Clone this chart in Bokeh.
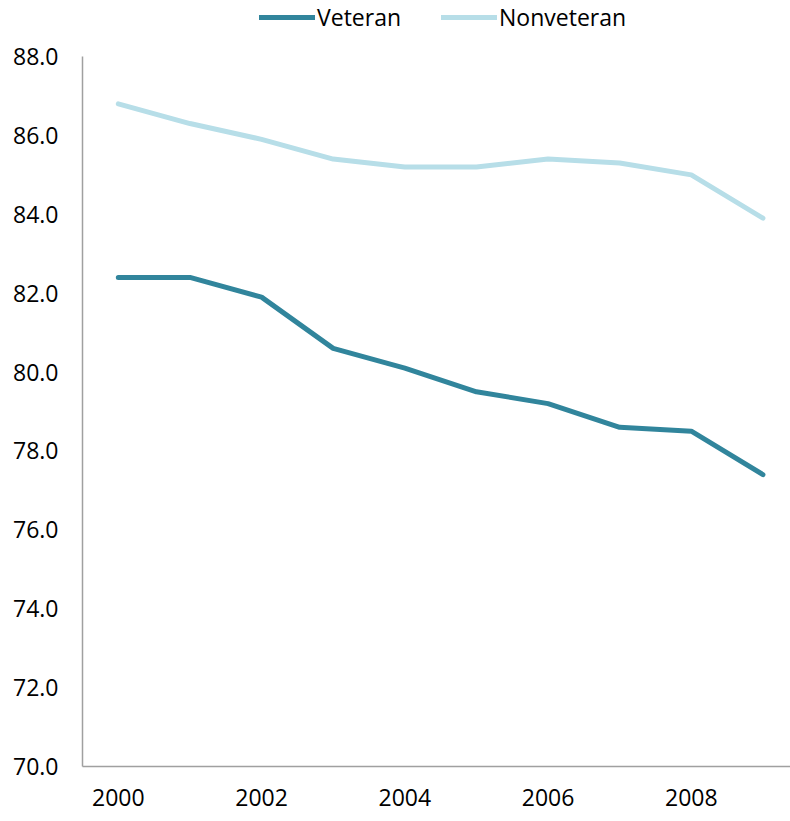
from bokeh.plotting import figure
from bokeh.models import Legend, LegendItem, Range1d, FixedTicker, NumeralTickFormatter
from bokeh.embed import file_html
from bokeh.resources import INLINE

years = [2000, 2001, 2002, 2003, 2004, 2005, 2006, 2007, 2008, 2009]
veteran = [82.4, 82.4, 81.9, 80.6, 80.1, 79.5, 79.2, 78.6, 78.5, 77.4]
nonveteran = [86.8, 86.3, 85.9, 85.4, 85.2, 85.2, 85.4, 85.3, 85.0, 83.9]
y_ticks = [70, 72, 74, 76, 78, 80, 82, 84, 86, 88]
x_ticks = [2000, 2002, 2004, 2006, 2008]

FONT = "Open Sans"

p = figure(frame_width=708, frame_height=766, output_backend="svg", toolbar_location=None,
           x_range=Range1d(1999.5, 2009.385), y_range=Range1d(70, 89.42),
           min_border_left=82, min_border_right=0, min_border_top=0, min_border_bottom=55)
p.outline_line_color = None
p.grid.visible = False
p.background_fill_color = "white"

r1 = p.line(years, veteran, line_color="#31859C", line_width=5, line_join="round", line_cap="round")
r2 = p.line(years, nonveteran, line_color="#B7DEE8", line_width=5, line_join="round", line_cap="round")

for ax in (p.xaxis[0], p.yaxis[0]):
    ax.axis_line_color = "#A0A0A0"
    ax.axis_line_width = 1.5
    ax.major_tick_line_color = None
    ax.minor_tick_line_color = None
    ax.major_tick_out = 0
    ax.major_tick_in = 0
    ax.major_label_text_font = FONT
    ax.major_label_text_font_size = "23px"
    ax.major_label_text_color = "black"

p.yaxis[0].ticker = FixedTicker(ticks=y_ticks)
p.yaxis[0].formatter = NumeralTickFormatter(format="0.0")
p.yaxis[0].major_label_standoff = 24
p.yaxis[0].bounds = (70, 88)
p.xaxis[0].ticker = FixedTicker(ticks=x_ticks)
p.xaxis[0].major_label_standoff = 22

legend = Legend(items=[LegendItem(label="Veteran", renderers=[r1]),
                       LegendItem(label="Nonveteran", renderers=[r2])],
                orientation="horizontal", location=(177, 733),
                label_text_font=FONT, label_text_font_size="23px", label_text_color="black",
                glyph_width=56, glyph_height=24, label_standoff=2, spacing=40,
                padding=0, margin=0, border_line_color=None,
                background_fill_alpha=0)
p.add_layout(legend, "center")

open("out.html", "w").write(file_html(p, INLINE))
